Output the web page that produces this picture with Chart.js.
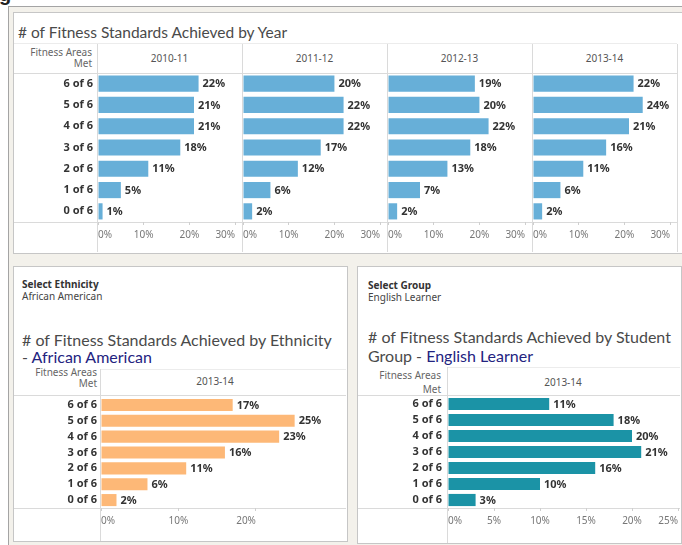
<!DOCTYPE html>
<html><head><meta charset="utf-8">
<script src="https://cdn.jsdelivr.net/npm/chart.js@4/dist/chart.umd.min.js"></script>
<style>
html,body{margin:0;padding:0;background:#fff;}
body{width:682px;height:545px;position:relative;overflow:hidden;font-family:"Noto Sans",sans-serif;}
.a{position:absolute;white-space:nowrap;}
#dash{left:8px;top:6px;width:700px;height:560px;background:#f3f1eb;border-left:1px solid #a4a4a4;border-top:1px solid #a4a4a4;}
.panel{position:absolute;background:#fff;border:1px solid #c6c6c6;box-sizing:border-box;}
.hl{position:absolute;height:1px;background:#dadada;}
.vl{position:absolute;width:1px;background:#dadada;}
.title{font-family:Lato,sans-serif;font-size:16px;line-height:18px;color:#4a4a4a;}
.navy{color:#23237f;}
.hdr{font-size:10px;line-height:11px;color:#666;text-align:right;}
.yr{font-size:10px;line-height:12px;color:#555;text-align:center;}
.sel{font-size:10px;line-height:12px;color:#333;font-weight:bold;}
.selv{font-size:10px;line-height:12px;color:#444;}
canvas{position:absolute;}
</style></head>
<body>
<div class="a" style="left:-1px;top:-17px;font:bold 20px 'Liberation Sans';color:#222;">g</div>
<div id="dash" class="a"></div>

<!-- top panel -->
<div class="panel" style="left:13px;top:12px;width:672px;height:242px;"></div>
<div class="a title" style="left:18px;top:23px;font-size:15.5px;"># of Fitness Standards Achieved by Year</div>
<div class="hl" style="left:14px;top:43px;width:663px;background:#ececec"></div>
<div class="hl" style="left:14px;top:73px;width:663px;"></div>
<div class="hl" style="left:14px;top:222px;width:663px;"></div>
<div class="vl" style="left:97px;top:44px;height:208px;"></div>
<div class="vl" style="left:242px;top:44px;height:208px;"></div>
<div class="vl" style="left:387px;top:44px;height:208px;"></div>
<div class="vl" style="left:532px;top:44px;height:208px;"></div>
<div class="vl" style="left:677px;top:44px;height:208px;"></div>
<div class="a hdr" style="left:14px;top:47px;width:78px;">Fitness Areas<br>Met</div>
<div id="yearHdr"></div>

<!-- bottom left panel -->
<div class="panel" style="left:13px;top:266px;width:335px;height:276px;"></div>
<div class="a sel" style="left:22px;top:278px;">Select Ethnicity</div>
<div class="a selv" style="left:22px;top:290px;">African American</div>
<div class="a title" style="left:22px;top:331px;"># of Fitness Standards Achieved by Ethnicity</div>
<div class="a title" style="left:22px;top:348px;">- <span class="navy">African American</span></div>
<div class="hl" style="left:101px;top:369px;width:245px;background:#ececec"></div>
<div class="hl" style="left:14px;top:395px;width:332px;"></div>
<div class="hl" style="left:14px;top:508px;width:332px;"></div>
<div class="vl" style="left:100px;top:369px;height:172px;"></div>
<div class="a hdr" style="left:14px;top:367px;width:83px;">Fitness Areas<br>Met</div>
<div class="a yr" style="left:175px;top:375px;width:80px;">2013-14</div>

<!-- bottom right panel -->
<div class="panel" style="left:357px;top:266px;width:325px;height:278px;"></div>
<div class="a sel" style="left:368px;top:279px;">Select Group</div>
<div class="a selv" style="left:368px;top:291px;">English Learner</div>
<div class="a title" style="left:368px;top:328px;"># of Fitness Standards Achieved by Student</div>
<div class="a title" style="left:368px;top:347px;">Group - <span class="navy">English Learner</span></div>
<div class="hl" style="left:447px;top:367px;width:233px;background:#ececec"></div>
<div class="hl" style="left:358px;top:395px;width:322px;"></div>
<div class="hl" style="left:358px;top:508px;width:322px;"></div>
<div class="vl" style="left:447px;top:367px;height:176px;"></div>
<div class="a hdr" style="left:358px;top:368px;width:83px;line-height:14px;">Fitness Areas<br>Met</div>
<div class="a yr" style="left:523px;top:376px;width:80px;">2013-14</div>

<canvas id="c0"></canvas><canvas id="c1"></canvas><canvas id="c2"></canvas><canvas id="c3"></canvas>
<canvas id="c4"></canvas><canvas id="c5"></canvas>

<script>
// ---- data ----
const fitnessLevels = ['6 of 6','5 of 6','4 of 6','3 of 6','2 of 6','1 of 6','0 of 6'];
const years = ['2010-11','2011-12','2012-13','2013-14'];
const pct2010_11 = [22,21,21,18,11,5,1];
const pct2011_12 = [20,22,22,17,12,6,2];
const pct2012_13 = [19,20,22,18,13,7,2];
const pct2013_14 = [22,24,21,16,11,6,2];
const africanAmerican2013_14 = [17,25,23,16,11,6,2];
const englishLearner2013_14 = [11,18,20,21,16,10,3];
const yearTicks = [0,10,20,30];
const ethnicityTicks = [0,10,20];
const groupTicks = [0,5,10,15,20,25];

const FONT = '"Noto Sans", sans-serif';
const PAD = {left:6,right:6,top:14,bottom:0};

const valueLabels = {
  id:'valueLabels',
  afterDatasetsDraw(chart){
    const ctx = chart.ctx, ds = chart.data.datasets[0];
    const meta = chart.getDatasetMeta(0);
    ctx.save();
    ctx.font = 'bold 11px ' + FONT;
    ctx.fillStyle = '#333';
    ctx.textBaseline = 'middle';
    ctx.textAlign = 'left';
    meta.data.forEach((el,i)=>{ ctx.fillText(ds.data[i] + '%', el.x + 4, el.y + 0.5); });
    ctx.restore();
  }
};

function makeChart(id, area, values, color, max, ticks, showY, yWidth, yPad, xHeight){
  const [L,R,T,B] = area;
  const cv = document.getElementById(id);
  const yw = showY ? yWidth : 0;
  const w = (R-L) + PAD.left + PAD.right + yw;
  const h = (B-T) + PAD.top + xHeight;
  cv.width = w; cv.height = h;
  cv.style.left = (L - PAD.left - yw) + 'px';
  cv.style.top = (T - PAD.top) + 'px';
  return new Chart(cv, {
    type:'bar',
    data:{ labels: fitnessLevels, datasets:[{ data: values, backgroundColor: color, borderWidth:0, barPercentage:0.76, categoryPercentage:1 }]},
    options:{
      indexAxis:'y', responsive:false, animation:false, devicePixelRatio:1,
      layout:{padding:PAD},
      plugins:{legend:{display:false}, tooltip:{enabled:false}},
      scales:{
        x:{ min:0, max:max, position:'bottom',
            afterBuildTicks(s){ s.ticks = ticks.map(v=>({value:v})); },
            ticks:{ align:'inner', padding:4, color:'#777', font:{size:10, family:FONT}, callback:v=>v+'%', maxRotation:0, autoSkip:false },
            grid:{ display:true, drawOnChartArea:false, drawTicks:true, tickLength:3, color:'#cfcfcf' },
            border:{ display:false },
            afterFit(s){ s.height = xHeight; } },
        y:{ display: showY,
            ticks:{ color:'#333', font:{size:11, weight:'bold', family:FONT}, padding:yPad, autoSkip:false },
            grid:{ display:false, drawTicks:false }, border:{ display:false },
            afterFit(s){ s.width = showY ? yWidth : 0; } }
      }
    },
    plugins:[valueLabels]
  });
}

const yearSeries = [pct2010_11, pct2011_12, pct2012_13, pct2013_14];
const colStarts = [97,242,387,532];
const hdr = document.getElementById('yearHdr');
years.forEach((y,i)=>{
  const d = document.createElement('div');
  d.className = 'a yr';
  d.style.left = colStarts[i] + 'px'; d.style.width = '145px'; d.style.top = '52px';
  d.textContent = y; hdr.appendChild(d);
  makeChart('c'+i, [colStarts[i]+1, colStarts[i]+145, 73, 222], yearSeries[i], '#67afd8', 31.5, yearTicks, i===0, 84, 5, 28);
});
makeChart('c4', [101, 345, 396.5, 508], africanAmerican2013_14, '#fdb877', 31.5, ethnicityTicks, true, 87, 4, 28);
makeChart('c5', [447.5, 678, 395.5, 508], englishLearner2013_14, '#1b93a6', 25, groupTicks, true, 89, 6, 28);
</script>
</body></html>
